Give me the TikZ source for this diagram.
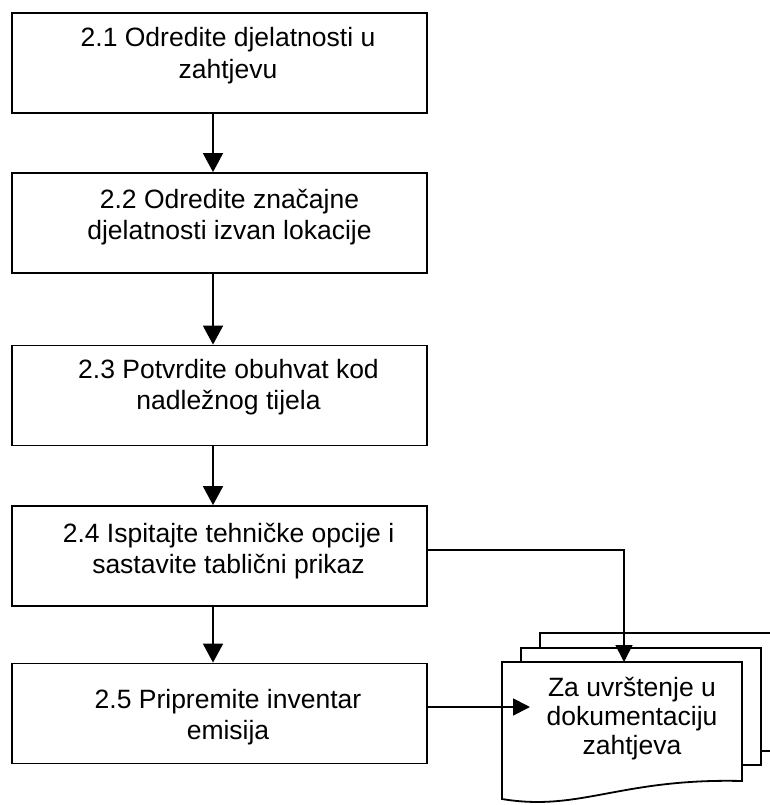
\documentclass[tikz,border=0pt]{standalone}
\usepackage{fontspec}
\setmainfont{Liberation Sans}
\usetikzlibrary{arrows.meta}
\begin{document}
\begin{tikzpicture}[x=1pt,y=-1pt,
  box/.style={draw, line width=1.8pt, minimum width=415pt, minimum height=100pt, inner sep=0pt},
  txt/.style={align=center, font=\fontsize{26.5}{31.5}\selectfont, inner sep=0pt, anchor=base},
  doctxt/.style={align=center, font=\fontsize{26.5}{29}\selectfont, inner sep=0pt, anchor=base},
  flow/.style={line width=1.8pt, -{Triangle[width=20pt,length=19pt]}},
  flowdoc/.style={line width=1.8pt, -{Triangle[width=17pt,length=17pt]}},
  doc/.style={draw, line width=1.8pt, fill=white, line join=miter}]
\useasboundingbox (0,0) rectangle (770,805);
\clip (0,0) rectangle (770,805);

% process boxes
\node[box] (b1) at (219.5,63) {};
\node[box] (b2) at (219.5,223) {};
\node[box] (b3) at (219.5,395.5) {};
\node[box] (b4) at (219.5,556) {};
\node[box] (b5) at (219.5,713.5) {};

% texts (base anchor = baseline of the last line)
\node[txt] (t1) at (228,78.5) {2.1 Odredite djelatnosti u\\zahtjevu};
\node[txt] (t2) at (229.5,239.5) {2.2 Odredite značajne\\djelatnosti izvan lokacije};
\node[txt] (t3) at (228.5,409.5) {2.3 Potvrdite obuhvat kod\\nadležnog tijela};
\node[txt] (t4) at (228.5,573.5) {2.4 Ispitajte tehničke opcije i\\sastavite tablični prikaz};
\node[txt] (t5) at (228,739.5) {2.5 Pripremite inventar\\emisija};

% multi-document
\draw[doc] (540,780) -- (540,633) -- (790,633) -- (790,751) -- (761,751);
\draw[doc] (521,790) -- (521,648) -- (761,648) -- (761,765) -- (742,765);
\draw[doc] (502,662) -- (742,662) -- (742,781)
  .. controls (620,778) and (580,812) .. (502,799) -- cycle;
\node[doctxt] (dt) at (632,754) {Za uvrštenje u\\dokumentaciju\\zahtjeva};
\coordinate (dtop) at (624,662);
\coordinate (din) at (530,707);

% connectors
\coordinate (ax) at (213,0);
\draw[flow] (b1.south -| ax) -- (b2.north -| ax);
\draw[flow] (b2.south -| ax) -- (b3.north -| ax);
\draw[flow] (b3.south -| ax) -- (b4.north -| ax);
\draw[flow] (b4.south -| ax) -- (b5.north -| ax);
\draw[flowdoc] (b4.east |- 0,550) -| (dtop);
\draw[flowdoc] (b5.east |- din) -- (din);
\end{tikzpicture}
\end{document}
